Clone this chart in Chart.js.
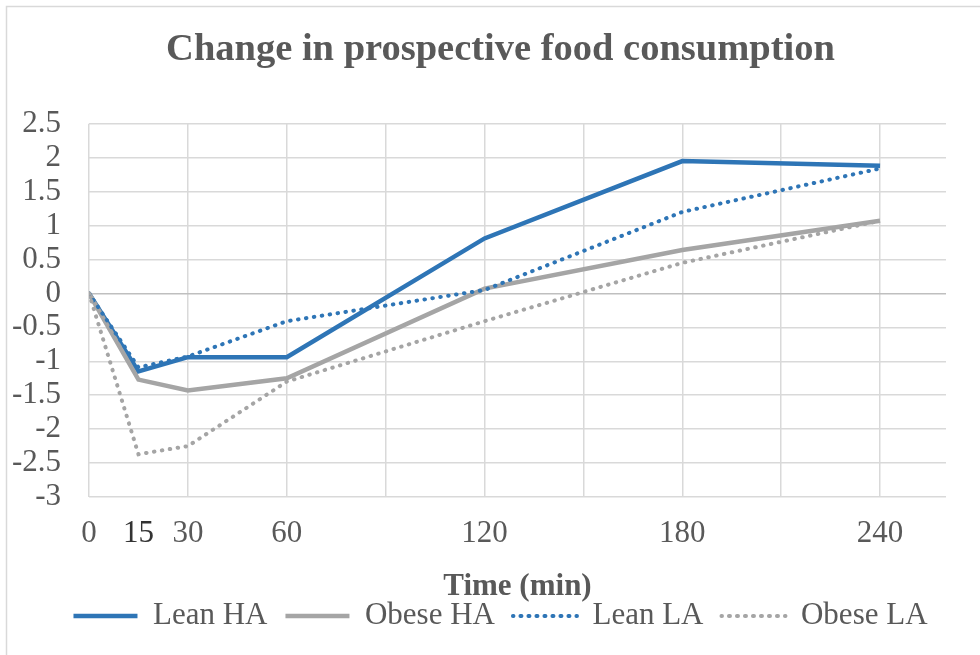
<!DOCTYPE html>
<html>
<head>
<meta charset="utf-8">
<script src="https://cdn.jsdelivr.net/npm/chart.js@4.4.1/dist/chart.umd.min.js"></script>
<style>
  html, body { margin: 0; padding: 0; background: #ffffff; }
  #wrap { width: 980px; height: 655px; }
</style>
</head>
<body>
<div id="wrap"><canvas id="c" width="980" height="655"></canvas></div>
<script>
// ---- data ----
const TIMES = [0, 15, 30, 60, 120, 180, 240];
const LEAN_HA  = [0, -1.15, -0.94, -0.94, 0.81, 1.95, 1.88];
const OBESE_HA = [0, -1.27, -1.43, -1.25, 0.07, 0.64, 1.07];
const LEAN_LA  = [0, -1.09, -0.93, -0.41, 0.05, 1.20, 1.84];
const OBESE_LA = [0, -2.37, -2.25, -1.30, -0.41, 0.45, 1.07];
const SERIES_NAMES = ['Lean HA', 'Obese HA', 'Lean LA', 'Obese LA'];
const X_LABELS = [0, 15, 30, 60, 120, 180, 240];
const X_GRID = [0, 30, 60, 90, 120, 150, 180, 210, 240];
const Y_MIN = -3, Y_MAX = 2.5, Y_STEP = 0.5;
const X_MIN = 0, X_MAX = 260;

const BLUE = '#2E75B6';
const GREY = '#A5A5A5';
const TEXT = '#595959';
const GRID = '#D9D9D9';
const FONT = "'Liberation Serif', 'Times New Roman', serif";

const toPts = arr => TIMES.map((t, i) => ({ x: t, y: arr[i] }));

const borderPlugin = {
  id: 'outerBorder',
  beforeDraw(chart) {
    const ctx = chart.ctx;
    ctx.save();
    ctx.strokeStyle = GRID;
    ctx.lineWidth = 1.5;
    ctx.strokeRect(6.5, 6.5, 2000, 2000);
    ctx.restore();
  }
};

const allTicks = Array.from(new Set([...X_GRID, ...X_LABELS])).sort((a, b) => a - b);

new Chart(document.getElementById('c'), {
  type: 'line',
  data: {
    datasets: [
      { label: SERIES_NAMES[0], data: toPts(LEAN_HA), borderColor: BLUE, backgroundColor: 'rgba(0,0,0,0)',
        borderWidth: 4.5, pointRadius: 0, tension: 0, order: 4 },
      { label: SERIES_NAMES[1], data: toPts(OBESE_HA), borderColor: GREY, backgroundColor: 'rgba(0,0,0,0)',
        borderWidth: 4.5, pointRadius: 0, tension: 0, order: 3 },
      { label: SERIES_NAMES[2], data: toPts(LEAN_LA), borderColor: BLUE, backgroundColor: 'rgba(0,0,0,0)',
        borderWidth: 4, borderDash: [0.5, 7.5], borderCapStyle: 'round', pointRadius: 0, tension: 0, order: 2 },
      { label: SERIES_NAMES[3], data: toPts(OBESE_LA), borderColor: GREY, backgroundColor: 'rgba(0,0,0,0)',
        borderWidth: 4, borderDash: [0.5, 7.5], borderCapStyle: 'round', pointRadius: 0, tension: 0, order: 1 }
    ]
  },
  options: {
    responsive: false,
    animation: false,
    devicePixelRatio: 1,
    layout: { padding: { left: 55, right: 34, top: 0, bottom: 13.5 } },
    plugins: {
      title: {
        display: true,
        text: 'Change in prospective food consumption',
        color: TEXT,
        font: { family: FONT, size: 38.5, weight: 'bold', lineHeight: 1.2 },
        padding: { top: 27, bottom: 50.5 }
      },
      legend: {
        position: 'bottom',
        labels: {
          color: TEXT,
          font: { family: FONT, size: 31 },
          boxWidth: 64,
          boxHeight: 0,
          padding: 18,
          sort: (a, b) => a.datasetIndex - b.datasetIndex
        }
      },
      tooltip: { enabled: false }
    },
    scales: {
      x: {
        type: 'linear',
        min: X_MIN,
        max: X_MAX,
        afterBuildTicks: (scale) => { scale.ticks = allTicks.map(v => ({ value: v })); },
        afterFit: (scale) => { scale.height = 85.5; },
        border: { display: false },
        grid: {
          drawTicks: false,
          lineWidth: 1.5,
          color: (ctx) => (ctx.tick && X_GRID.includes(ctx.tick.value)) ? GRID : 'rgba(0,0,0,0)'
        },
        ticks: {
          autoSkip: false,
          maxRotation: 0,
          padding: 18,
          color: (ctx) => (ctx.tick && ctx.tick.value === 15) ? '#333333' : TEXT,
          font: { family: FONT, size: 31 },
          callback: (v) => X_LABELS.includes(v) ? String(v) : ''
        },
        title: {
          display: true,
          text: 'Time (min)',
          color: TEXT,
          font: { family: FONT, size: 31, weight: 'bold', lineHeight: 1.2 },
          padding: { top: 0, bottom: -23 }
        }
      },
      y: {
        min: Y_MIN,
        max: Y_MAX,
        afterFit: (scale) => {
          scale.width = 34;
          // let the tick labels extend past the narrow axis box without clipping
          scale._computeLabelArea = () => undefined;
        },
        border: { display: false },
        grid: {
          drawTicks: false,
          lineWidth: 1.5,
          color: (ctx) => (ctx.tick && Math.abs(ctx.tick.value) < 1e-9) ? '#BFBFBF' : GRID
        },
        ticks: {
          stepSize: Y_STEP,
          autoSkip: false,
          padding: 28,
          color: TEXT,
          font: { family: FONT, size: 31 },
          callback: (v) => String(Math.round(v * 10) / 10)
        }
      }
    }
  },
  plugins: [borderPlugin]
});
</script>
</body>
</html>
